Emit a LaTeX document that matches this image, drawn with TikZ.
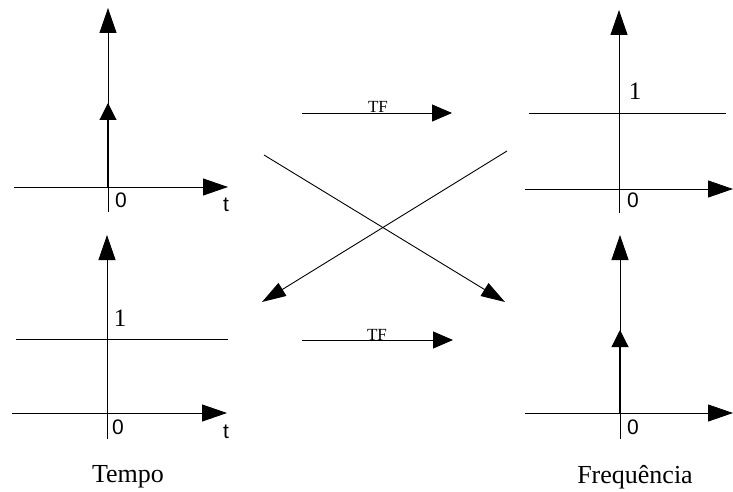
\documentclass[tikz,border=0pt]{standalone}
\usepackage{fontspec}
\setmainfont{Liberation Serif}
\setsansfont{Liberation Sans}
\usetikzlibrary{arrows.meta}
\begin{document}
\begin{tikzpicture}[x=1pt,y=-1pt,
  ax/.style={line width=0.9pt, -{Triangle[length=25pt,width=17pt]}},
  imp/.style={line width=1.1pt, -{Triangle[length=17pt,width=17pt]}},
  plain/.style={line width=0.9pt},
  tfarrow/.style={line width=0.9pt, -{Triangle[length=20pt,width=17pt]}},
  crossarrow/.style={line width=0.9pt, -{Triangle[length=24pt,width=15pt]}},
  sanslbl/.style={inner sep=0pt, font=\sffamily\fontsize{21}{24}\selectfont},
  onelbl/.style={inner sep=0pt, font=\fontsize{25}{29}\selectfont},
  tflbl/.style={inner sep=0pt, anchor=base, font=\fontsize{17}{20}\selectfont},
  caption/.style={inner sep=0pt, font=\fontsize{26}{30}\selectfont}]
\useasboundingbox (0,0) rectangle (733,492);

% ---------- top-left: impulse in time
\coordinate (tlL) at (14,187);
\coordinate (tlR) at (228,187);
\coordinate (tlB) at (108,212);
\coordinate (tlT) at (108,8);
\coordinate (tlO) at (108,187);
\coordinate (tlI) at (108,103);
\draw[ax] (tlL) -- (tlR);
\draw[ax] (tlB) -- (tlT);
\draw[imp] (tlO) -- (tlI);
\node[sanslbl] (tl0) at (121,200) {0};
\node[sanslbl] (tlt) at (226,205) {t};

% ---------- top-right: constant in frequency
\coordinate (trB) at (619,213);
\coordinate (trT) at (619,10);
\coordinate (trL1) at (529,113);
\coordinate (trR1) at (726,113);
\coordinate (trL) at (525,189);
\coordinate (trR) at (733,189);
\draw[ax] (trB) -- (trT);
\draw[plain] (trL1) -- (trR1);
\draw[ax] (trL) -- (trR);
\node[onelbl] (tr1) at (635,91) {1};
\node[sanslbl] (tr0) at (633,200) {0};

% ---------- bottom-left: constant in time
\coordinate (blB) at (107,439);
\coordinate (blT) at (107,235);
\coordinate (blL1) at (16,339);
\coordinate (blR1) at (228,339);
\coordinate (blL) at (12,413);
\coordinate (blR) at (227,413);
\draw[ax] (blB) -- (blT);
\draw[plain] (blL1) -- (blR1);
\draw[ax] (blL) -- (blR);
\node[onelbl] (bl1) at (120,318) {1};
\node[sanslbl] (bl0) at (118,427) {0};
\node[sanslbl] (blt) at (226,432) {t};
\node[caption] (tempo) at (128,477) {Tempo};

% ---------- bottom-right: impulse in frequency
\coordinate (brB) at (620,439);
\coordinate (brT) at (620,235);
\coordinate (brO) at (620,413);
\coordinate (brI) at (620,330);
\coordinate (brL) at (525,413);
\coordinate (brR) at (733,413);
\draw[ax] (brB) -- (brT);
\draw[imp] (brO) -- (brI);
\draw[ax] (brL) -- (brR);
\node[sanslbl] (br0) at (633,427) {0};
\node[caption] (freq) at (635,477) {Frequência};

% ---------- TF arrows
\coordinate (tf1a) at (302,113);
\coordinate (tf1b) at (452,113);
\draw[tfarrow] (tf1a) -- (tf1b);
\node[tflbl] (tf1) at (378,113) {TF};
\coordinate (tf2a) at (302,340);
\coordinate (tf2b) at (453,340);
\draw[tfarrow] (tf2a) -- (tf2b);
\node[tflbl] (tf2) at (377,340) {TF};

% ---------- crossing arrows
\coordinate (c1a) at (264,155);
\coordinate (c1b) at (505,302);
\coordinate (c2a) at (507,151);
\coordinate (c2b) at (262,302);
\draw[crossarrow] (c1a) -- (c1b);
\draw[crossarrow] (c2a) -- (c2b);
\end{tikzpicture}
\end{document}
